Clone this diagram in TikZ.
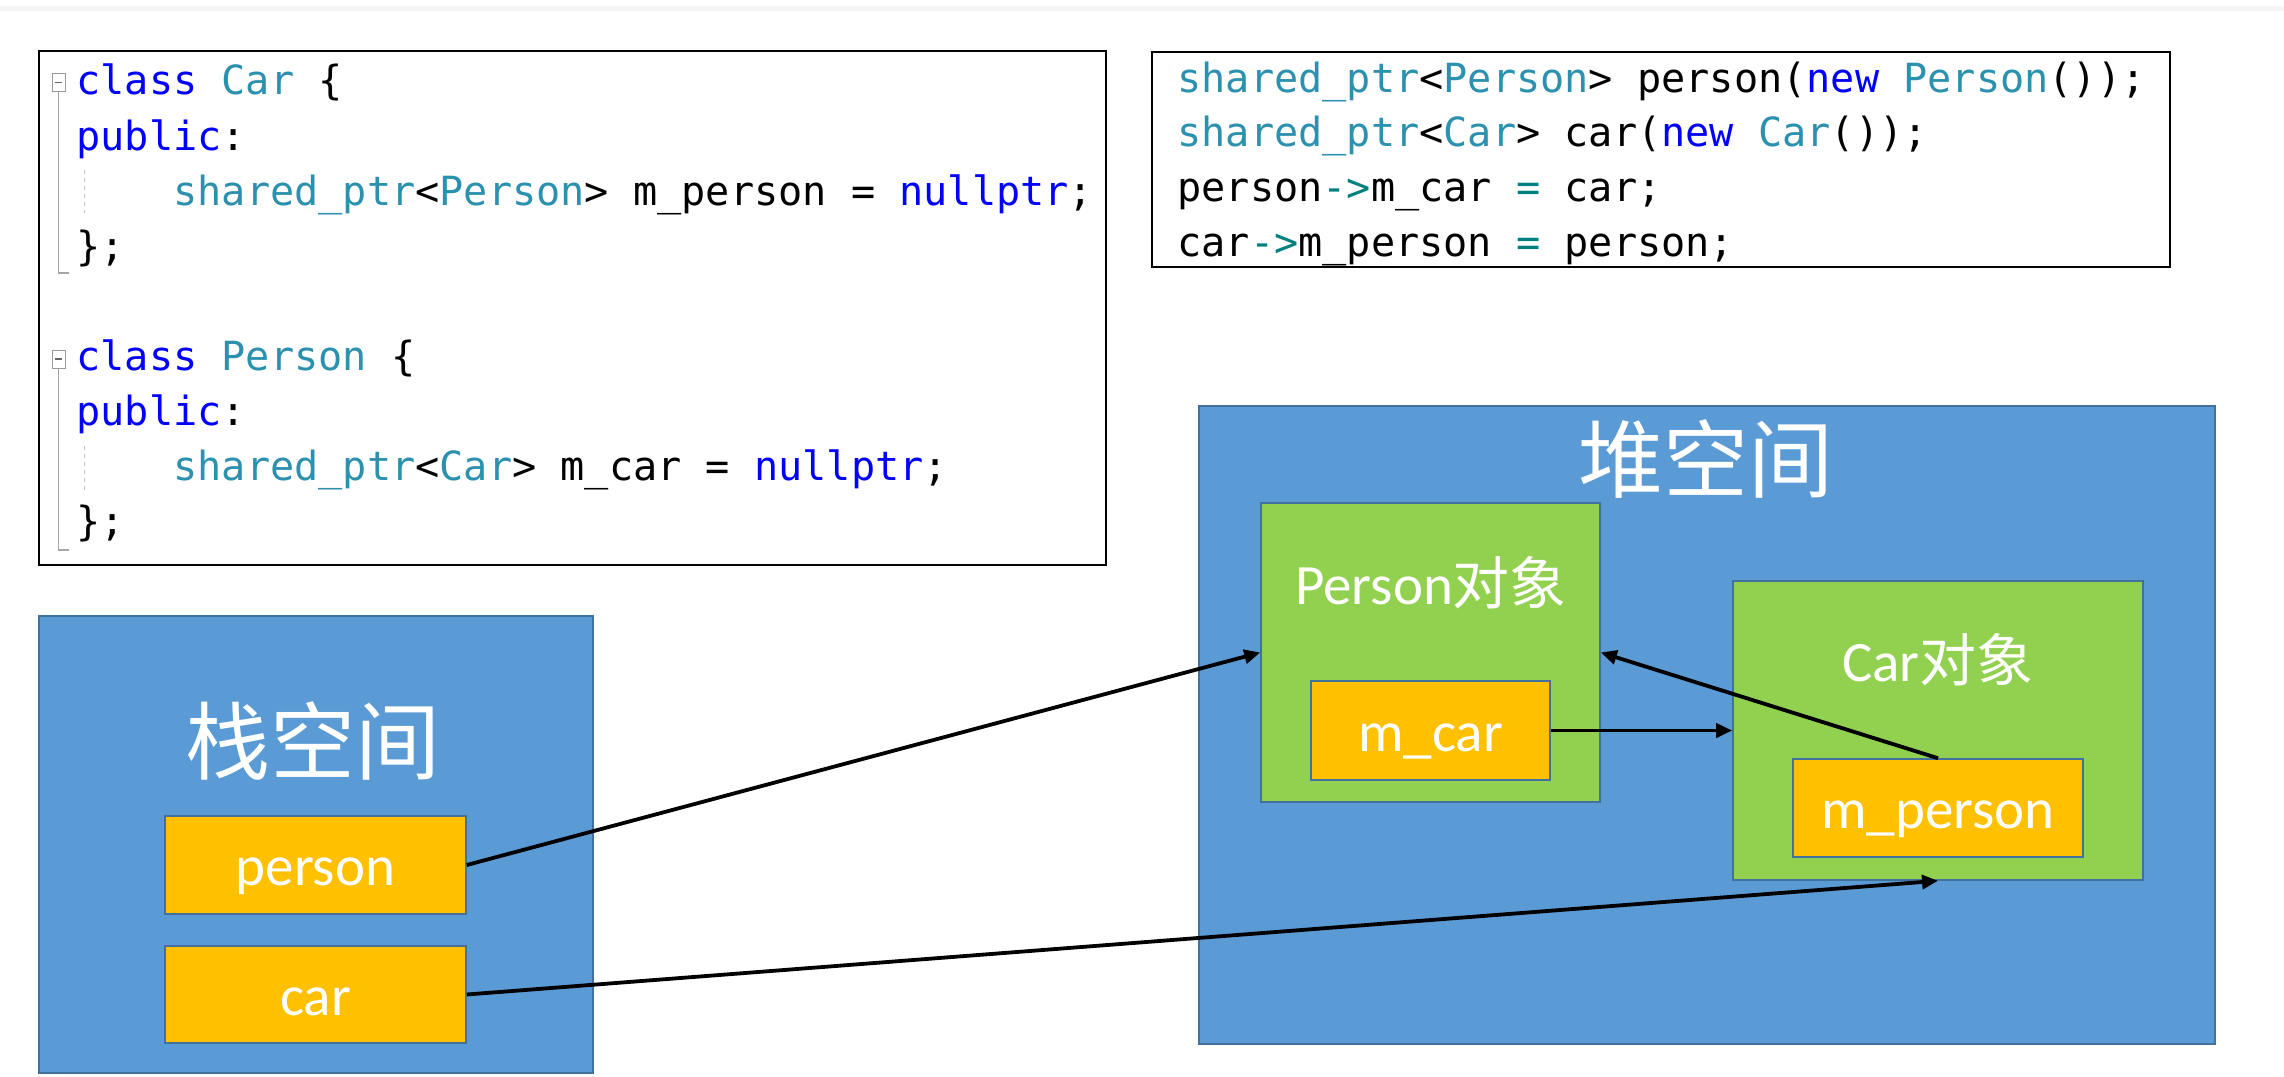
\documentclass[tikz,border=0pt]{standalone}
\usepackage{fontspec}
\setmainfont{Carlito}
\newfontfamily\cjk{Noto Sans CJK SC}
\newfontfamily\codefont{DejaVu Sans Mono}
\usetikzlibrary{arrows.meta}
\definecolor{kw}{HTML}{0000FF}
\definecolor{ty}{HTML}{2B91AF}
\definecolor{op}{HTML}{008080}
\definecolor{memblue}{HTML}{5B9BD5}
\definecolor{memline}{HTML}{41719C}
\definecolor{objgreen}{HTML}{92D050}
\definecolor{varorange}{HTML}{FFC000}
\begin{document}
\begin{tikzpicture}[x=0.5pt,y=-0.5pt,
  codebox/.style={draw=black,line width=1pt,fill=white,inner sep=0},
  codeline/.style={anchor=base west,inner sep=0,font=\codefont\fontsize{20.1}{24}\selectfont},
  memarea/.style={draw=memline,line width=0.8pt,fill=memblue,inner sep=0},
  objbox/.style={draw=memline,line width=0.8pt,fill=objgreen,inner sep=0},
  varbox/.style={draw=memline,line width=0.8pt,fill=varorange,inner sep=0,text=white,
    text height=20.5pt,text depth=0pt,font=\fontsize{28.5}{32}\selectfont},
  bigtitle/.style={text=white,inner sep=0,font=\cjk\fontsize{42.5}{48}\selectfont},
  objtitle/.style={text=white,inner sep=0,font=\fontsize{28.5}{32}\selectfont},
  ptr/.style={draw=black,line width=1.9pt,-{Triangle[length=8pt,width=7pt]}},
  foldbox/.style={draw=black!40,line width=0.5pt,fill=white,minimum width=6.5pt,minimum height=9pt,inner sep=0},
  foldline/.style={draw=black!35,line width=0.6pt},
  guide/.style={draw=black!25,line width=0.5pt,dash pattern=on 2pt off 2pt}
]
\useasboundingbox (0,0) rectangle (2284,1076);
\fill[black!4] (0,6) rectangle (2284,11);

% ---- code box 1 ----
\node[codebox,minimum width=533.5pt,minimum height=257pt] (code1) at (572.5,308) {};
\node[foldbox] (fold1) at (58.5,82.5) {};
\draw[draw=black!60,line width=0.6pt] (fold1.west) ++(1.5pt,0) -- ++(3.5pt,0);
\draw[foldline] (fold1.south) -- (58.5,273) -- (69,273);
\draw[guide] (84,170) -- (84,213);
\node[codeline] (l1) at (76,94) {{\color{kw}class} {\color{ty}Car} \{};
\node[codeline] (l2) at (76,150) {{\color{kw}public}:};
\node[codeline] (l3) at (173,205) {{\color{ty}shared\_ptr}<{\color{ty}Person}> m\_person = {\color{kw}nullptr};};
\node[codeline] (l4) at (76,260) {\};};

\node[foldbox] (fold2) at (58.5,359) {};
\draw[draw=black!60,line width=0.6pt] (fold2.west) ++(1.5pt,0) -- ++(3.5pt,0);
\draw[foldline] (fold2.south) -- (58.5,550) -- (69,550);
\draw[guide] (84,446) -- (84,490);
\node[codeline] (l5) at (76,370) {{\color{kw}class} {\color{ty}Person} \{};
\node[codeline] (l6) at (76,425) {{\color{kw}public}:};
\node[codeline] (l7) at (173,480) {{\color{ty}shared\_ptr}<{\color{ty}Car}> m\_car = {\color{kw}nullptr};};
\node[codeline] (l8) at (76,535) {\};};

% ---- code box 2 ----
\node[codebox,minimum width=509pt,minimum height=107.5pt] (code2) at (1661,159.5) {};
\node[codeline] (m1) at (1177,92) {{\color{ty}shared\_ptr}<{\color{ty}Person}> person({\color{kw}new} {\color{ty}Person}());};
\node[codeline] (m2) at (1177,146) {{\color{ty}shared\_ptr}<{\color{ty}Car}> car({\color{kw}new} {\color{ty}Car}());};
\node[codeline] (m3) at (1177,201) {person{\color{op}->}m\_car {\color{op}=} car;};
\node[codeline] (m4) at (1177,256) {car{\color{op}->}m\_person {\color{op}=} person;};

% ---- stack ----
\node[memarea,minimum width=277pt,minimum height=228.5pt] (stack) at (316,844.5) {};
\node[bigtitle] (stacktitle) at (313,741) {栈空间};
\node[varbox,minimum width=150.5pt,minimum height=49pt] (person) at (315.5,865) {person};
\node[varbox,minimum width=150.5pt,minimum height=48.5pt] (car) at (315.5,994.5) {car};

% ---- heap ----
\node[memarea,minimum width=508pt,minimum height=319pt] (heap) at (1707,725) {};
\node[bigtitle] (heaptitle) at (1706,459) {堆空间};
\node[objbox,minimum width=169.5pt,minimum height=149.5pt] (pobj) at (1430.5,652.5) {};
\node[objtitle] (ptitle) at (1431,583) {Person{\cjk 对象}};
\node[varbox,minimum width=119.5pt,minimum height=49.5pt] (mcar) at (1430.5,730.5) {m\_car};
\node[objbox,minimum width=205pt,minimum height=149.5pt] (cobj) at (1938,730.5) {};
\node[objtitle] (ctitle) at (1938,660) {Car{\cjk 对象}};
\node[varbox,minimum width=145pt,minimum height=49pt] (mperson) at (1938,808) {m\_person};

% ---- pointers ----
\draw[ptr] (person.east) -- (pobj.west);
\draw[ptr] (car.east) -- (cobj.south);
\draw[ptr] (mcar.east) -- (cobj.west);
\draw[ptr] (mperson.north) -- (pobj.east);
\end{tikzpicture}
\end{document}
